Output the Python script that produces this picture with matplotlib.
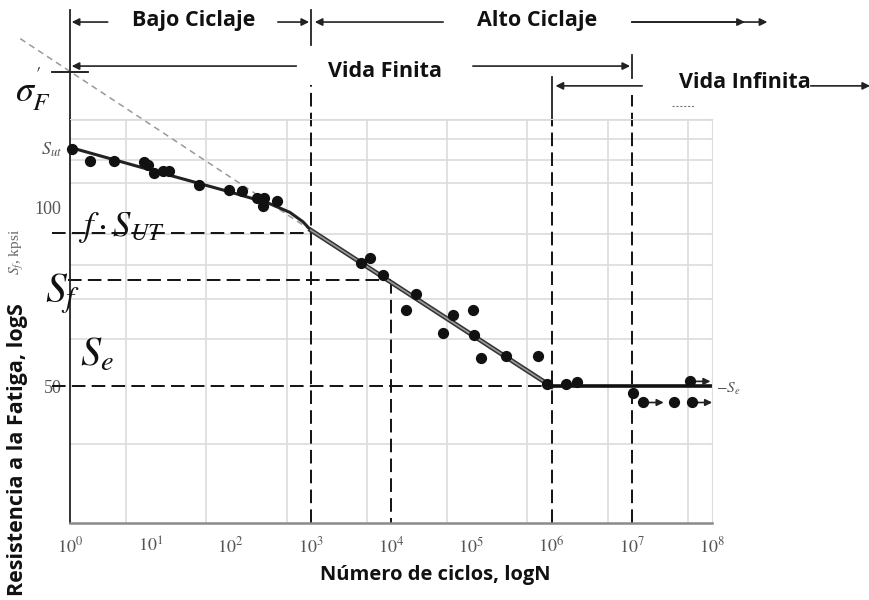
import matplotlib.pyplot as plt
from matplotlib.ticker import FixedLocator, FixedFormatter

plt.rcParams['mathtext.fontset'] = 'stix'
plt.rcParams['font.family'] = ['Open Sans', 'DejaVu Sans']

# puntos de ensayo (ciclos, kpsi)
ciclos = [1.05, 1.8, 3.5, 8.4, 9.5, 11.2, 14.6, 17.3, 41, 97, 138, 216, 261, 257, 383,
          4230, 5480, 7870, 15400, 20500, 44000, 58700, 104000, 108000, 131000,
          271000, 686000, 887000, 1.51e6, 2.09e6, 1.05e7]
resistencia = [125.2, 119.7, 119.7, 119.0, 117.8, 114.1, 115.2, 114.9, 109.0, 106.9, 106.6,
               103.8, 103.6, 100.5, 102.5,
               80.6, 82.1, 77.0, 67.1, 71.5, 61.5, 66.0, 67.1, 61.1, 55.9,
               56.3, 56.3, 50.5, 50.5, 50.8, 48.7]

# probetas sin falla (con flecha)
ciclos_runout = [1.39e7, 3.36e7, 5.58e7, 5.32e7]
res_runout = [47.0, 47.0, 47.0, 51.0]
con_flecha = [True, False, True, True]

# curva S-N
curva_n = [1, 10, 100, 300, 550, 800, 1000]
curva_s = [126, 115.5, 106, 101.5, 98.0, 94.5, 91.5]
hcf_n = [1e3, 1e6]
hcf_s = [91.5, 50]
se_n = [1e6, 1e8]
se_s = [50, 50]

# extension hasta sigma'_F
ext_n = [0.24, 1e3]
ext_s = [191.8, 91.5]
sigma_f_prime = 168.6

s_ut = 126
f_sut = 90.5
s_f = 75.5
s_e = 50
n_f = 1e4

x_ticks = [1, 10, 100, 1e3, 1e4, 1e5, 1e6, 1e7, 1e8]
x_labels = [r'$10^{%d}$' % i for i in range(9)]
x_grid = [1, 5, 10, 50, 100, 500, 1e3, 5e3, 1e4, 5e4, 1e5, 5e5, 1e6, 5e6, 1e7, 5e7, 1e8]
y_grid = [40, 50, 60, 70, 80, 90, 100, 110, 120, 130, 140]
y_ticks = [50, 100, s_ut]
y_labels = ['50', '100', r'$S_{ut}$']

fig = plt.figure(figsize=(8.7, 6), dpi=100)
ax = fig.add_axes([70 / 870, 77 / 600, 642 / 870, 404 / 600])
ax.set_xscale('log')
ax.set_yscale('log')
ax.set_xlim(1, 1e8)
ax.set_ylim(29.5, 140.6)

ax.xaxis.set_major_locator(FixedLocator(x_ticks))
ax.xaxis.set_major_formatter(FixedFormatter(x_labels))
ax.xaxis.set_minor_locator(FixedLocator(x_grid))
ax.yaxis.set_major_locator(FixedLocator(y_ticks))
ax.yaxis.set_major_formatter(FixedFormatter(y_labels))
ax.yaxis.set_minor_locator(FixedLocator(y_grid))
ax.xaxis.set_minor_formatter(plt.NullFormatter())
ax.yaxis.set_minor_formatter(plt.NullFormatter())
ax.tick_params(which='both', length=0, colors='#555', labelsize=13)
for lab in ax.get_yticklabels():
    lab.set_family('Liberation Serif')
ax.tick_params(axis='x', pad=10)
ax.tick_params(axis='y', pad=6)
ax.grid(which='minor', color='#dcdcdc', lw=1.2)
ax.grid(which='major', visible=False)
ax.set_axisbelow(True)
ax.spines['left'].set_color('#222')
ax.spines['left'].set_linewidth(1.3)
ax.spines['bottom'].set_color('#8a8a8a')
ax.spines['bottom'].set_linewidth(1.8)
ax.spines['right'].set_color('#dcdcdc')
ax.spines['top'].set_color('#dcdcdc')

trans = ax.get_xaxis_transform()
dash = dict(color='#111', lw=1.4, ls=(0, (7, 3.2)), clip_on=False)

# lineas de referencia
ax.plot([0.6, 1e3], [f_sut, f_sut], **dash)
ax.plot([0.94, n_f], [s_f, s_f], **dash)
ax.plot([n_f, n_f], [s_f, 29.5], **dash)
ax.plot([0.6, 1e6], [s_e, s_e], **dash)
ax.plot([1e3, 1e3], [0, 1.084], transform=trans, **dash)
ax.plot([1e6, 1e6], [0, 1.0], transform=trans, **dash)
ax.plot([1e7, 1e7], [0, 1.059], transform=trans, **dash)

# extension gris
ax.plot(ext_n, ext_s, color='#9a9a9a', lw=1.1, ls=(0, (4, 3)), clip_on=False)

# curva S-N
ax.plot(curva_n, curva_s, color='#222', lw=2.2, solid_capstyle='round')
ax.plot(hcf_n, hcf_s, color='#333', lw=3.4)
ax.plot(hcf_n, hcf_s, color='#9a9a9a', lw=1.2)
ax.plot(se_n, se_s, color='#111', lw=2.6)

ax.scatter(ciclos, resistencia, s=50, color='#111', zorder=5, clip_on=False)
ax.scatter(ciclos_runout, res_runout, s=50, color='#111', zorder=5, clip_on=False)
for n, s, flecha in zip(ciclos_runout, res_runout, con_flecha):
    if flecha:
        ax.annotate('', xy=(n * 1.8, s), xytext=(n, s),
                    arrowprops=dict(arrowstyle='-|>', color='#222', lw=1.2,
                                    mutation_scale=10, shrinkA=4, shrinkB=0),
                    annotation_clip=False)

# etiquetas dentro del grafico
ax.text(1.25, 92.5, r'$f\cdot S_{UT}$', fontsize=25, color='#111', va='center', ha='left')
ax.text(0.49, 71.5, r'$S_f$', fontsize=30, color='#111', va='center', ha='left', clip_on=False)
ax.text(1.33, 56.5, r'$S_e$', fontsize=29, color='#111', va='center', ha='left')
ax.text(1.12e8, 49.6, r'$-S_e$', fontsize=11, color='#555', va='center', ha='left')

# sigma'_F
ax.plot([0.6, 1.68], [sigma_f_prime, sigma_f_prime], color='#111', lw=1.3, clip_on=False)
ax.text(0.35, 158, r"$\sigma_F^{'}$", fontsize=26, color='#111', va='center', ha='center')

# zona superior: ciclaje y vida
line = dict(color='#222', lw=1.3, clip_on=False, transform=trans)
ax.plot([1, 1], [1.0, 1.27], **line)
ax.plot([1e3, 1e3], [1.183, 1.27], **line)
ax.plot([1e6, 1e6], [1.0, 1.104], **line)
ax.plot([1e7, 1e7], [1.101, 1.158], **line)
ax.plot([10 ** 7.5, 10 ** 7.79], [1.032, 1.032], color='#777', lw=0.8,
        ls=(0, (2, 1.5)), clip_on=False, transform=trans)


def flecha(n0, n1, y):
    ax.annotate('', xy=(n1, y), xytext=(n0, y), xycoords=trans, textcoords=trans,
                arrowprops=dict(arrowstyle='-|>', color='#222', lw=1.2,
                                mutation_scale=11, shrinkA=0, shrinkB=0),
                annotation_clip=False)


bold = dict(fontsize=15.5, fontweight='bold', color='#111', transform=trans,
            ha='center', va='center')
flecha(10 ** 0.47, 1.05, 1.240)
ax.text(35, 1.243, 'Bajo Ciclaje', **bold)
flecha(10 ** 2.59, 10 ** 2.98, 1.240)
flecha(10 ** 4.65, 10 ** 3.05, 1.240)
ax.text(10 ** 5.82, 1.243, 'Alto Ciclaje', **bold)
flecha(10 ** 7.0, 10 ** 8.41, 1.240)
flecha(10 ** 7.0, 10 ** 8.69, 1.240)

flecha(10 ** 2.82, 1.05, 1.131)
ax.text(10 ** 3.92, 1.117, 'Vida Finita', **bold)
flecha(10 ** 5.02, 10 ** 6.98, 1.131)

flecha(10 ** 7.13, 10 ** 6.05, 1.082)
ax.text(10 ** 8.41, 1.090, 'Vida Infinita', **bold)
flecha(10 ** 9.23, 10 ** 9.97, 1.082)

# titulos de ejes
fig.text(18 / 870, 1 - 450 / 600, 'Resistencia a la Fatiga, logS', rotation=90,
         fontsize=15.5, fontweight='bold', color='#111', ha='center', va='center')
fig.text(17 / 870, 1 - 252 / 600, r'$S_f$, kpsi', rotation=90, fontsize=11,
         color='#666', family='Liberation Serif', ha='center', va='center')
fig.text(435 / 870, 1 - 575 / 600, 'Número de ciclos, logN', fontsize=14.5,
         fontweight='bold', color='#111', ha='center', va='center')

fig.savefig('out.png', dpi=100)
